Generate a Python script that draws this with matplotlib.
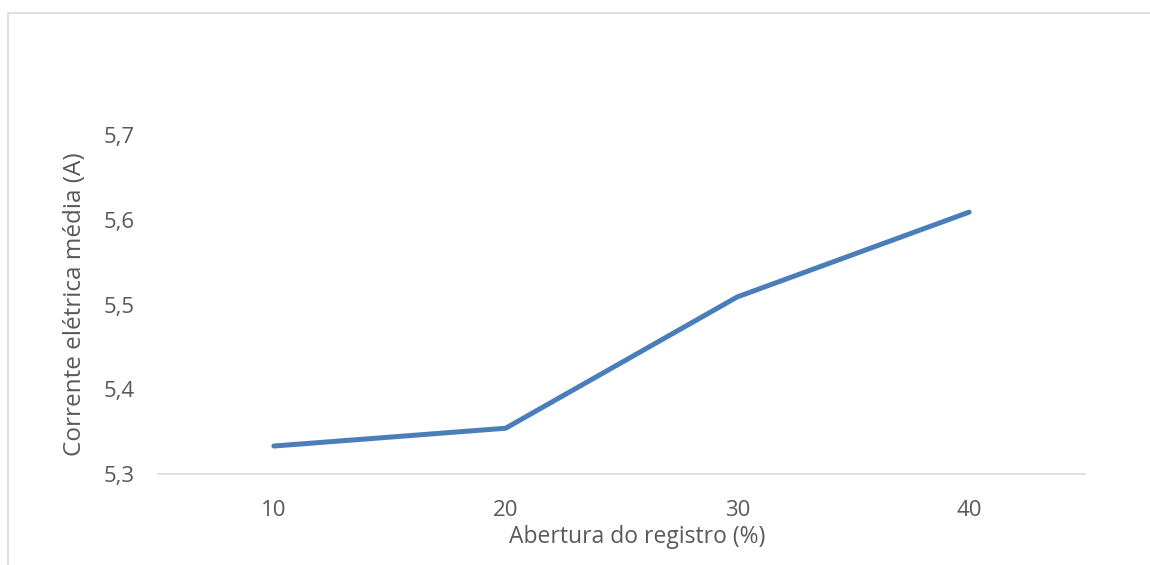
import matplotlib
matplotlib.use('Agg')
import matplotlib.pyplot as plt
from matplotlib.patches import Rectangle
import numpy as np

# data
abertura = ['10', '20', '30', '40']
corrente = [5.333, 5.354, 5.509, 5.609]
y_ticks = [5.3, 5.4, 5.5, 5.6, 5.7]

plt.rcParams['font.family'] = ['Open Sans', 'DejaVu Sans']
gray = '#595959'

fig = plt.figure(figsize=[11.5, 5.65], dpi=100)
ax = fig.add_axes([158 / 1150, 1 - 474 / 565, (1085 - 158) / 1150, (474 - 135) / 565])

x = np.arange(len(abertura))
ax.plot(x, corrente, color='#4a7ebb', linewidth=3.6, solid_capstyle='round', solid_joinstyle='round')

ax.set_xlim(-0.5, len(abertura) - 0.5)
ax.set_ylim(5.3, 5.7)
ax.set_xticks(x)
ax.set_xticklabels(abertura)
ax.set_yticks(y_ticks)
ax.set_yticklabels([f'{v:.1f}'.replace('.', ',') for v in y_ticks])
ax.tick_params(length=0, labelsize=16, colors=gray)
ax.tick_params(axis='x', pad=19)
ax.tick_params(axis='y', pad=17)

for s in ['top', 'right', 'left']:
    ax.spines[s].set_visible(False)
ax.spines['bottom'].set_color('#d9d9d9')
ax.spines['bottom'].set_linewidth(1.2)

ax.set_xlabel('Abertura do registro (%)', fontsize=16.5, color=gray)
ax.xaxis.set_label_coords((637 - 158) / 927, (474 - 525) / 339)
ax.set_ylabel('Corrente elétrica média (A)', fontsize=17.5, color=gray, labelpad=12)

# chart area border (cropped on right and bottom)
fig.patches.append(Rectangle((8 / 1150, -0.1), 1.2, 1 - 13 / 565 + 0.1,
                             transform=fig.transFigure, fill=False,
                             edgecolor='#d9d9d9', linewidth=1.2))

fig.savefig('out.png', dpi=100)
